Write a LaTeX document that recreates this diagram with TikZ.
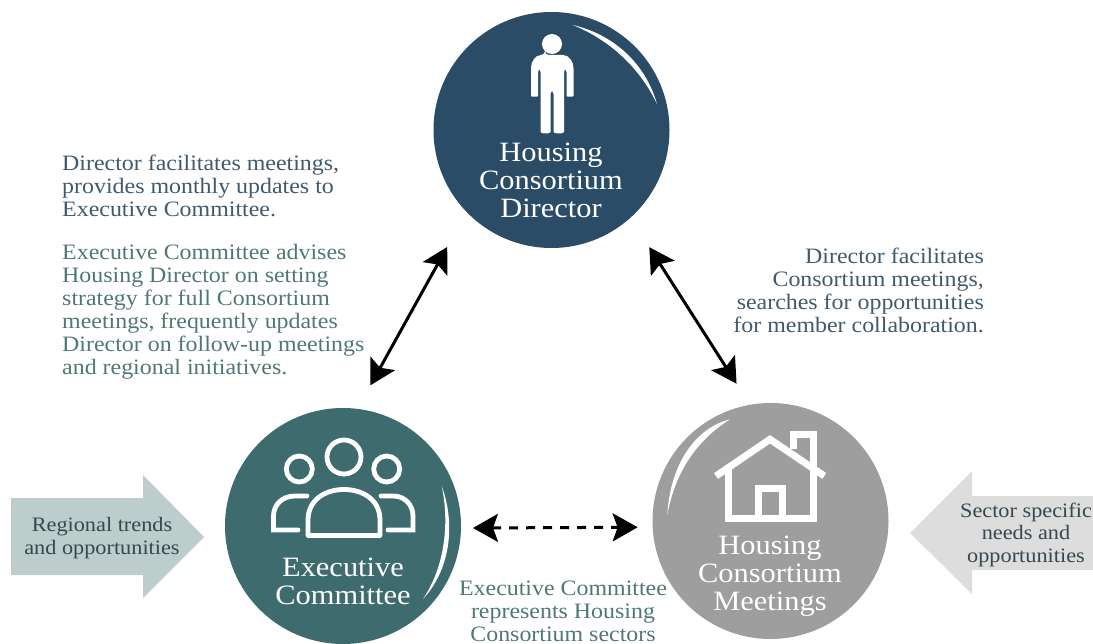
\documentclass[tikz,border=0pt]{standalone}
\usepackage{fontspec}
\usetikzlibrary{arrows.meta}
\newfontfamily\merri[FakeStretch=1.087]{Liberation Serif}
\definecolor{dirblue}{HTML}{2B4C66}
\definecolor{execteal}{HTML}{3D6B6E}
\definecolor{meetgrey}{HTML}{9E9E9E}
\definecolor{txtblue}{HTML}{3F5A6E}
\definecolor{txtteal}{HTML}{4F7875}
\definecolor{leftarrow}{HTML}{BCCDCB}
\definecolor{rightarrow}{HTML}{DDDDDD}
\definecolor{arrowtxt}{HTML}{37474F}
\tikzset{
  x=1pt,y=-1pt,
  hub/.style={circle,minimum size=236pt,inner sep=0pt,outer sep=0pt,draw=none},
  hubtext/.style={text=white,font=\merri\fontsize{28}{28}\selectfont,align=center,inner sep=0pt,anchor=base},
  para/.style={font=\merri\fontsize{22}{23}\selectfont,inner sep=0pt},
  smallpara/.style={font=\merri\fontsize{20.5}{22.5}\selectfont,inner sep=0pt},
  link/.style={line width=3pt,black,{Stealth[length=25pt,width=28pt,inset=5pt]}-{Stealth[length=25pt,width=28pt,inset=5pt]}},
  dashlink/.style={link,dash pattern=on 9pt off 8pt},
  icon/.style={draw=white,line width=4.8pt,fill=none},
  thick icon/.style={draw=white,line width=7pt,fill=none,line cap=butt,line join=miter},
}
\begin{document}
\begin{tikzpicture}
\useasboundingbox (0,0) rectangle (1093,644);
% block arrows
\fill[leftarrow] (11,498) -- (143,498) -- (143,475) -- (204,537) -- (143,598) -- (143,575) -- (11,575) -- cycle;
\fill[rightarrow] (1093,496) -- (972,496) -- (972,471) -- (910,533) -- (972,594) -- (972,570) -- (1093,570) -- cycle;
% hubs
\node[hub,fill=dirblue] (director) at (551.5,130) {};
\node[hub,fill=execteal] (exec) at (343,526) {};
\node[hub,fill=meetgrey] (meet) at (770.5,521) {};
% crescents
\fill[white] (572.7,25) .. controls (612,34) and (645,62) .. (657,104) .. controls (640,68) and (610,40) .. (572.7,25) -- cycle;
\fill[white] (441.7,486) .. controls (456,525) and (450,570) .. (423,599) .. controls (444,568) and (450,525) .. (441.7,486) -- cycle;
\fill[white] (730,419.3) .. controls (695,428) and (670,465) .. (667.3,515) .. controls (675,472) and (697,440) .. (730,419.3) -- cycle;
% person icon
\fill[white] (552,44) circle[radius=10];
\fill[white,rounded corners=4pt] (545,55) -- (559,55) .. controls (569,55) and (573.5,62) .. (573.5,72) -- (573.5,92) .. controls (573.5,97) and (566.5,97) .. (566.5,92) -- (566.5,68) -- (564,68) -- (564,128) .. controls (564,134) and (553.5,134) .. (553.5,128) -- (553.5,90) -- (550.5,90) -- (550.5,128) .. controls (550.5,134) and (540.5,134) .. (540.5,128) -- (540.5,68) -- (538,68) -- (538,92) .. controls (538,97) and (531,97) .. (531,92) -- (531,72) .. controls (531,62) and (535,55) .. (545,55) -- cycle;
% group icon
\draw[icon] (344,457) circle[radius=17];
\draw[icon] (299.3,469) circle[radius=13];
\draw[icon] (386.7,469) circle[radius=13];
\draw[icon,line join=round] (308,535.5) -- (308,520) .. controls (308,500) and (325,489.5) .. (344,489.5) .. controls (363,489.5) and (380,500) .. (380,520) -- (380,535.5) -- cycle;
\draw[icon,line cap=round] (307,496) -- (295,496) .. controls (282,496) and (273.5,505) .. (273.5,516) -- (273.5,530) -- (298,530);
\draw[icon,line cap=round] (381,496) -- (393,496) .. controls (405,496) and (413,505) .. (413,516) -- (413,530) -- (388,530);
% house icon
\draw[thick icon] (716,476) -- (770,439.3) -- (824.3,476);
\draw[thick icon] (728.3,465) -- (728.3,518.3) -- (813.3,518.3) -- (813.3,465);
\draw[thick icon] (758.5,518.3) -- (758.5,488.5) -- (782.2,488.5) -- (782.2,518.3);
\draw[thick icon] (793.3,449) -- (793.3,434) -- (813.3,434) -- (813.3,468);
% hub labels
\node[hubtext] (dirlabel) at (551,218) {Housing\\Consortium\\Director};
\node[hubtext] (execlabel) at (343,604) {Executive\\Committee};
\node[hubtext] (meetlabel) at (770,610) {Housing\\Consortium\\Meetings};
% paragraphs
\node[para,anchor=base west,align=left,text=txtblue] (p1) at (62,217) {Director facilitates meetings,\\provides monthly updates to\\Executive Committee.};
\node[para,anchor=base west,align=left,text=txtteal] (p2) at (62,374) {Executive Committee advises\\Housing Director on setting\\strategy for full Consortium\\meetings, frequently updates\\Director on follow-up meetings\\and regional initiatives.};
\node[para,anchor=base east,align=right,text=txtblue] (p3) at (984,333) {Director facilitates\\Consortium meetings,\\searches for opportunities\\for member collaboration.};
\node[para,anchor=base,align=center,text=txtteal] (p4) at (563,641) {Executive Committee\\represents Housing\\Consortium sectors};
\node[smallpara,anchor=base,align=center,text=arrowtxt] (p5) at (102,554) {Regional trends\\and opportunities};
\node[smallpara,anchor=base,align=center,text=arrowtxt] (p6) at (1026,562) {Sector specific\\needs and\\opportunities};
% connectors
\draw[link,shorten <=40pt,shorten >=27pt] (director.224.5) -- (exec.83.4);
\draw[link,shorten <=35pt,shorten >=25pt] (director.-48.6) -- (meet.100);
\draw[dashlink,shorten <=12pt,shorten >=15pt] (exec.-1) -- (meet.183.8);
\end{tikzpicture}
\end{document}
